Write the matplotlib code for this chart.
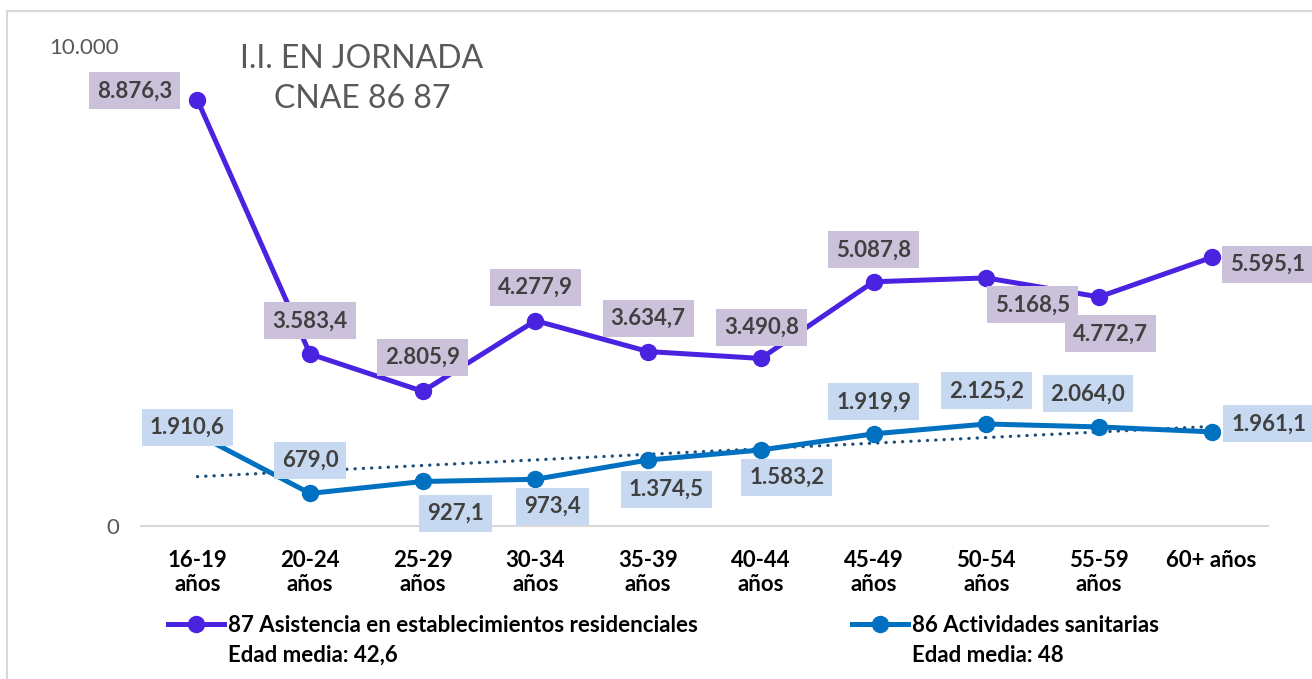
import numpy as np
import matplotlib.pyplot as plt
from matplotlib.patches import Rectangle

# datos
edades = ['16-19\naños', '20-24\naños', '25-29\naños', '30-34\naños', '35-39\naños',
          '40-44\naños', '45-49\naños', '50-54\naños', '55-59\naños', '60+ años']
ii_87 = [8876.3, 3583.4, 2805.9, 4277.9, 3634.7, 3490.8, 5087.8, 5168.5, 4772.7, 5595.1]
ii_86 = [1910.6, 679.0, 927.1, 973.4, 1374.5, 1583.2, 1919.9, 2125.2, 2064.0, 1961.1]
nombre_87 = '87 Asistencia en establecimientos residenciales'
nombre_86 = '86 Actividades sanitarias'
edad_media_87 = 'Edad media: 42,6'
edad_media_86 = 'Edad media: 48'

# desplazamiento de las etiquetas (px)
off_87 = [(-63, 9), (0, 33), (0, 34), (0, 33), (0, 33), (1, 31), (0, 32), (46, -27), (12, -37), (56, -7)]
off_86 = [(-10, 7), (0, 33), (33, -32), (17, -27), (18, -29), (26, -27), (0, 32), (0, 33), (-11, 33), (57, 8)]

plt.rcParams['font.family'] = ['Lato', 'DejaVu Sans']

W, H = 1312, 679
fig = plt.figure(figsize=(W / 100, H / 100), dpi=100)
ax = fig.add_axes([141 / W, 1 - 526 / H, (1268 - 141) / W, (526 - 46) / H])

x = np.arange(len(edades))
c87 = '#4A23E0'
c86 = '#0070C0'

ax.plot(x, ii_87, color=c87, lw=3.6, marker='o', ms=11.5, zorder=3, solid_capstyle='round')
ax.plot(x, ii_86, color=c86, lw=3.6, marker='o', ms=11.5, zorder=3, solid_capstyle='round')

# linea de tendencia
a, b = np.polyfit(x, ii_86, 1)
ax.plot(x, a * x + b, color='#1F4E79', lw=2.3, ls=(0, (0.1, 2.5)),
        dash_capstyle='round', zorder=2)

def etiqueta(v):
    s = f'{v:,.1f}'
    return s.replace(',', 'X').replace('.', ',').replace('X', '.')

for xi, v, (dx, dy) in zip(x, ii_87, off_87):
    ax.annotate(etiqueta(v), (xi, v), xytext=(dx * 0.72, dy * 0.72), textcoords='offset points',
                ha='center', va='center', fontsize=16, fontweight='bold', color='#404040',
                bbox=dict(boxstyle='square,pad=0.36', fc='#CCC1DA', ec='none'), zorder=5,
                annotation_clip=False)
for xi, v, (dx, dy) in zip(x, ii_86, off_86):
    ax.annotate(etiqueta(v), (xi, v), xytext=(dx * 0.72, dy * 0.72), textcoords='offset points',
                ha='center', va='center', fontsize=16, fontweight='bold', color='#404040',
                bbox=dict(boxstyle='square,pad=0.36', fc='#C6D9F0', ec='none'), zorder=5,
                annotation_clip=False)

ax.set_xlim(-0.5, 9.5)
ax.set_ylim(0, 10000)
ax.set_xticks(x)
ax.set_xticklabels(edades, fontsize=16, fontweight='bold', color='black', linespacing=1.2)
ax.set_yticks([0, 10000])
ax.set_yticklabels(['0', '10.000'], fontsize=16, color='#595959')
ax.tick_params(axis='x', length=0, pad=17)
ax.tick_params(axis='y', length=0, pad=16)
for s in ['top', 'right', 'left']:
    ax.spines[s].set_visible(False)
ax.spines['bottom'].set_color('#D9D9D9')
ax.spines['bottom'].set_linewidth(1.5)

fig.text(362 / W, 1 - 79 / H, 'I.I. EN JORNADA\nCNAE 86 87', ha='center', va='center',
         fontsize=23, color='#595959', linespacing=1.45)

# leyenda
h87, = ax.plot([], [], color=c87, lw=3.6, marker='o', ms=11.5)
h86, = ax.plot([], [], color=c86, lw=3.6, marker='o', ms=11.5)
fs = 16 * 100 / 72
for h, lab, lab2, x0 in [(h87, nombre_87, edad_media_87, 168), (h86, nombre_86, edad_media_86, 852)]:
    fig.legend(handles=[h], labels=[lab], loc='center left', bbox_to_anchor=(x0 / W, 1 - 625 / H),
               frameon=False, borderpad=0, borderaxespad=0, handlelength=56 / fs,
               handletextpad=4 / fs, prop=dict(size=16, weight='bold'))
    fig.text((x0 + 60) / W, 1 - 655 / H, lab2, ha='left', va='center', fontsize=16,
             fontweight='bold', color='black')

fig.patches.append(Rectangle((7 / W, -0.1), 1.2, 1 - 11 / H + 0.1, transform=fig.transFigure,
                             fill=False, ec='#D9D9D9', lw=1.5))

fig.savefig('out.png', dpi=100)
